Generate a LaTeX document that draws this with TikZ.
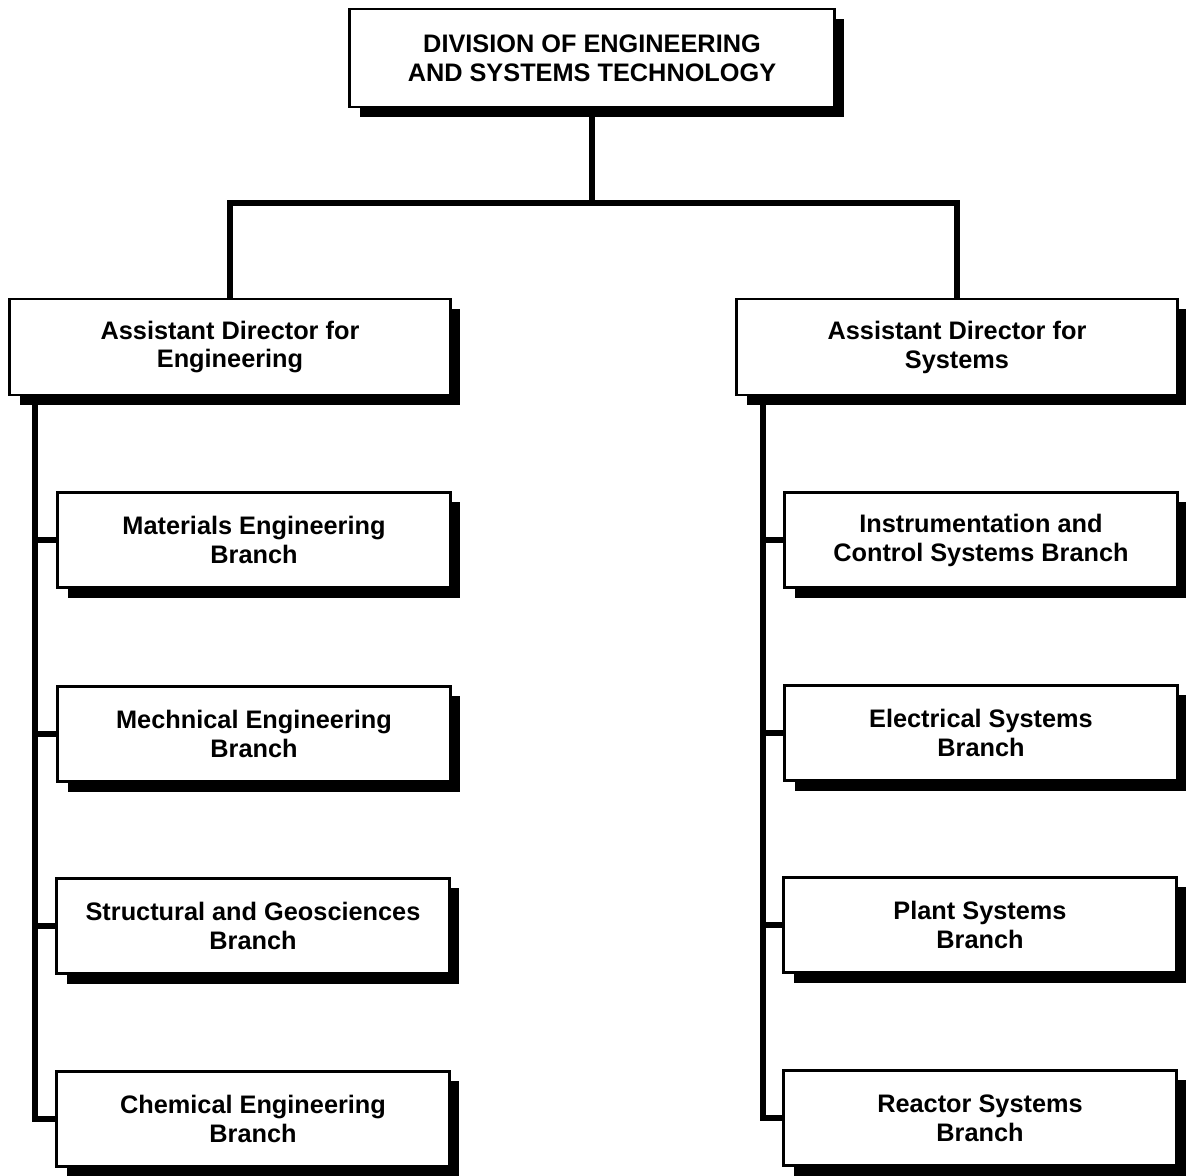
\documentclass[tikz,border=0pt]{standalone}
\usepackage{fontspec}
\setmainfont{Liberation Sans}
\usetikzlibrary{shadows}

\begin{document}
\begin{tikzpicture}[x=0.025cm,y=-0.025cm,
    office/.style={draw,line width=2.1pt,fill=white,align=center,inner sep=0pt,
      font=\bfseries\fontsize{18}{20.6}\selectfont,
      drop shadow={shadow xshift=0.25cm,shadow yshift=-0.25cm,opacity=1,fill=black}},
    headbox/.style={office,minimum width=12.1cm,minimum height=2.45cm},
    assistbox/.style={office,minimum width=11cm,minimum height=2.4cm},
    branchbox/.style={office,minimum width=9.8cm,minimum height=2.375cm},
    link/.style={line width=4.2pt}]
    \useasboundingbox (0,0) rectangle (1186,1176);

    \coordinate (bar) at (592,203);
    \coordinate (ltrunk) at (35,396);
    \coordinate (rtrunk) at (763,396);

    \node[headbox] at (592,58) (DEST) {DIVISION OF ENGINEERING\\AND SYSTEMS TECHNOLOGY};
    \node[assistbox] at (230,347) (ADE) {Assistant Director for\\Engineering};
    \node[assistbox] at (957,347) (ADS) {Assistant Director for\\Systems};

    \node[branchbox] at (254,540) (Mat) {Materials Engineering\\Branch};
    \node[branchbox] at (254,734) (Mech) {Mechnical Engineering\\Branch};
    \node[branchbox] at (253,926) (Struct) {Structural and Geosciences\\Branch};
    \node[branchbox] at (253,1119) (Chem) {Chemical Engineering\\Branch};

    \node[branchbox] at (981,540) (Inst) {Instrumentation and\\Control Systems Branch};
    \node[branchbox] at (981,733) (Elec) {Electrical Systems\\Branch};
    \node[branchbox] at (980,925) (Plant) {Plant Systems\\Branch};
    \node[branchbox] at (980,1118) (React) {Reactor Systems\\Branch};

    \draw[link] (DEST) -- (bar);
    \draw[link] (ADE) |- (bar) -| (ADS);
    \draw[link] (ltrunk) |- (Chem);
    \draw[link] (rtrunk) |- (React);
    \foreach \b in {Mat,Mech,Struct}
      \draw[link] (ltrunk |- \b) -- (\b);
    \foreach \b in {Inst,Elec,Plant}
      \draw[link] (rtrunk |- \b) -- (\b);
  \end{tikzpicture}
\end{document}
